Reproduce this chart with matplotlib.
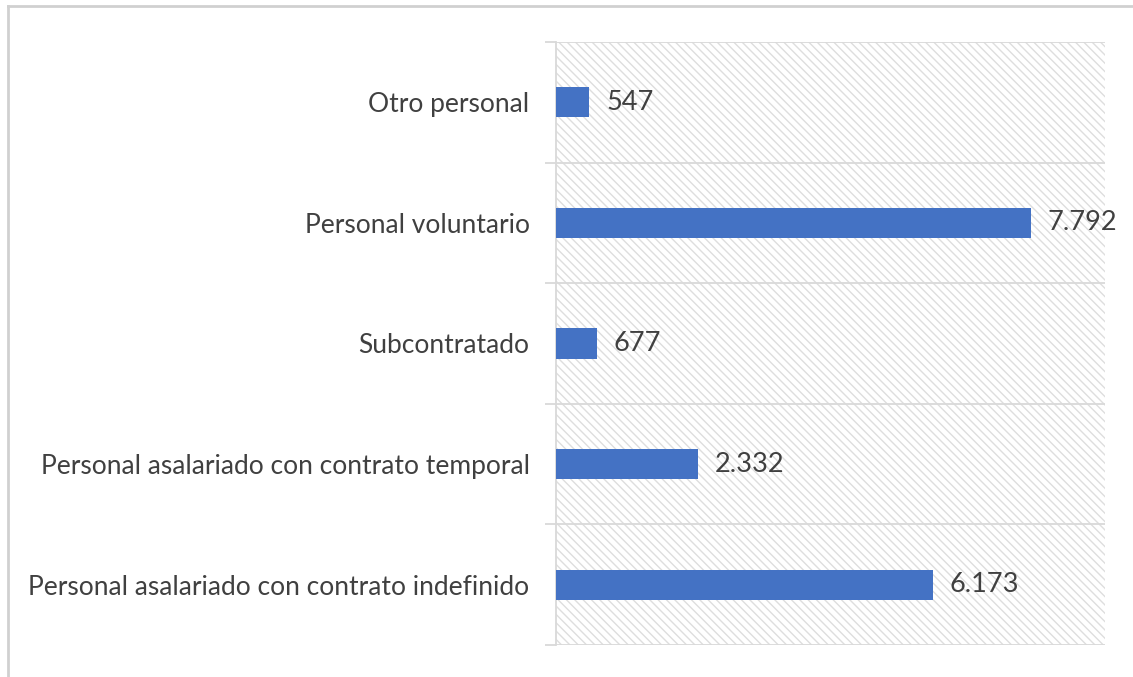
import matplotlib.pyplot as plt
from matplotlib.lines import Line2D

plt.rcParams['font.family'] = ['Lato', 'DejaVu Sans']
plt.rcParams['hatch.linewidth'] = 1.0
plt.rcParams['hatch.color'] = '#dedede'

# --- Datos ---
categorias = ['Personal asalariado con contrato indefinido',
              'Personal asalariado con contrato temporal',
              'Subcontratado',
              'Personal voluntario',
              'Otro personal']
valores = [6173, 2332, 677, 7792, 547]
etiquetas = ['6.173', '2.332', '677', '7.792', '547']

azul = '#4472c4'
gris = '#d9d9d9'
texto = '#404040'

fig = plt.figure(figsize=(11.33, 6.77), dpi=100)
ax = fig.add_axes([0.4907, 0.0473, 0.4846, 0.8907])

# fondo rayado
ax.patch.set_facecolor('white')
fondo = plt.Rectangle((0, 0), 1, 1, transform=ax.transAxes, facecolor='white',
                      edgecolor='#dedede', linewidth=0, hatch='\\\\\\\\', zorder=0)
ax.add_patch(fondo)

pos = list(range(len(categorias)))
ax.barh(pos, valores, height=0.25, color=azul, zorder=3)

for y, v, t in zip(pos, valores, etiquetas):
    ax.annotate(t, (v, y), xytext=(12, 0), textcoords='offset points',
                va='center', ha='left', fontsize=19.5, color=texto, zorder=4)

ax.set_xlim(0, 9000)
ax.set_ylim(-0.5, len(categorias) - 0.5)

# separadores entre categorias
for b in [i - 0.5 for i in range(len(categorias) + 1)]:
    ax.axhline(b, color=gris, linewidth=1.3, zorder=2)

ax.set_yticks([i - 0.5 for i in range(len(categorias) + 1)])
ax.set_yticklabels([])
ax.tick_params(axis='y', which='major', length=8, color=gris, width=1.3)
ax.set_yticks(pos, minor=True)
ax.set_yticklabels(categorias, minor=True, fontsize=19, color=texto)
ax.tick_params(axis='y', which='minor', length=0, pad=19)
ax.set_xticks([])

for s in ['top', 'right', 'bottom']:
    ax.spines[s].set_visible(False)
ax.spines['left'].set_color(gris)
ax.spines['left'].set_linewidth(1.3)

# marco exterior
fig.add_artist(Line2D([8 / 1133, 1], [1 - 6 / 677, 1 - 6 / 677], color='#d0d0d0', linewidth=2))
fig.add_artist(Line2D([8 / 1133, 8 / 1133], [0, 1 - 6 / 677], color='#d0d0d0', linewidth=2))

fig.savefig('out.png', dpi=100, facecolor='white')
